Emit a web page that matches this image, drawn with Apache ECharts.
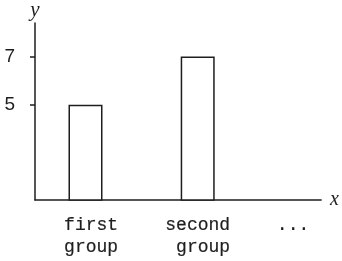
<!DOCTYPE html>
<html>
<head>
<meta charset="utf-8">
<script src="https://cdn.jsdelivr.net/npm/echarts@6/dist/echarts.min.js"></script>
<style>
html,body{margin:0;padding:0;background:#fff;}
#chart{width:342px;height:261px;}
</style>
</head>
<body>
<div id="chart"></div>
<script>
// Data
const groups = ['first\ngroup', 'second\n group', '...'];
const barPos = [1, 2];
const values = [5, 7];
const labelPos = [1.05, 2, 2.85];
const yTicks = [5, 7];

const ink = '#1e1e1e';
const chart = echarts.init(document.getElementById('chart'), null, {renderer: 'canvas'});
chart.setOption({
  animation: false,
  backgroundColor: '#fff',
  grid: {left: 35, right: 19, top: 23, bottom: 61, containLabel: false},
  xAxis: {
    type: 'value',
    min: 0.55,
    max: 3.1,
    name: 'x',
    nameLocation: 'end',
    nameGap: 9,
    nameTextStyle: {fontFamily: 'Liberation Serif', fontStyle: 'italic', fontSize: 20, color: ink, verticalAlign: 'middle', padding: [4, 0, 0, 0]},
    axisLine: {show: true, onZero: false, lineStyle: {color: ink, width: 1.5}},
    axisTick: {show: false},
    splitLine: {show: false},
    axisLabel: {
      customValues: labelPos,
      margin: 14,
      fontFamily: 'Liberation Mono',
      fontSize: 18,
      lineHeight: 22,
      color: ink,
      textBorderColor: ink,
      textBorderWidth: 0.2,
      hideOverlap: false,
      formatter: function (v) {
        const i = labelPos.indexOf(v);
        return i >= 0 ? groups[i] : '';
      }
    }
  },
  yAxis: {
    type: 'value',
    min: 1.07,
    max: 8.38,
    name: 'y',
    nameLocation: 'end',
    nameGap: 2,
    nameTextStyle: {fontFamily: 'Liberation Serif', fontStyle: 'italic', fontSize: 21, color: ink, align: 'center'},
    axisLine: {show: true, onZero: false, lineStyle: {color: ink, width: 1.5}},
    axisTick: {show: true, customValues: yTicks, length: 5, inside: false, lineStyle: {color: ink, width: 1.5}},
    splitLine: {show: false},
    axisLabel: {
      customValues: yTicks,
      margin: 20,
      fontFamily: 'Liberation Sans',
      fontSize: 19,
      color: ink
    }
  },
  series: [{
    type: 'bar',
    barWidth: 34,
    data: barPos.map((x, i) => [x, values[i]]),
    itemStyle: {color: '#fff', borderColor: ink, borderWidth: 1.5},
    clip: true
  }]
});
</script>
</body>
</html>
